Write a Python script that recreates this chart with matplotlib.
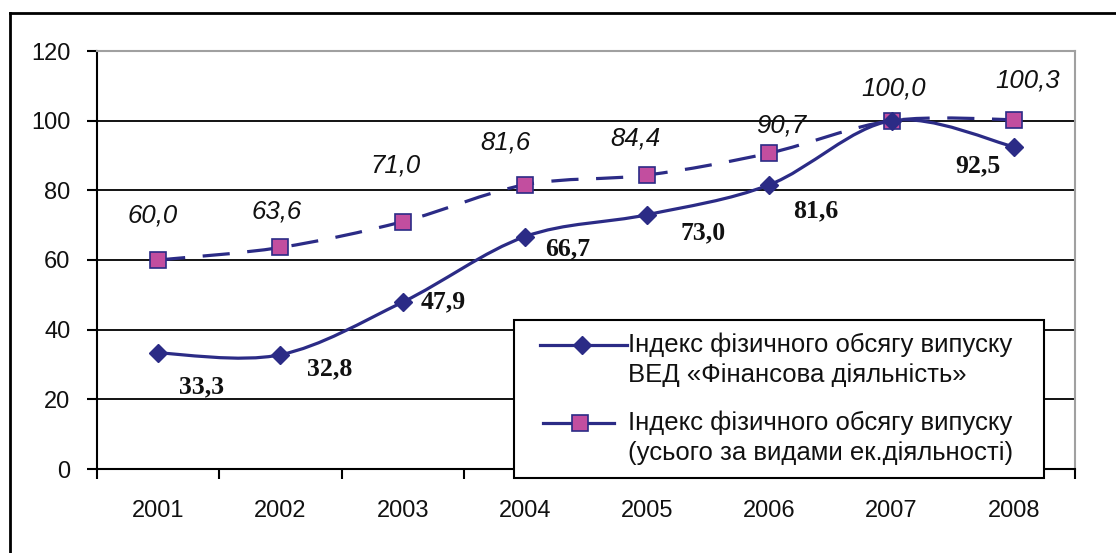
import numpy as np
import matplotlib
matplotlib.use("Agg")
import matplotlib.pyplot as plt
from matplotlib.path import Path
from matplotlib.patches import PathPatch, Rectangle
from matplotlib.lines import Line2D

# data
years = ['2001', '2002', '2003', '2004', '2005', '2006', '2007', '2008']
fin_index = [33.3, 32.8, 47.9, 66.7, 73.0, 81.6, 100.0, 92.5]
total_index = [60.0, 63.6, 71.0, 81.6, 84.4, 90.7, 100.0, 100.3]
y_ticks = [0, 20, 40, 60, 80, 100, 120]
fin_label = ['Індекс фізичного обсягу випуску', 'ВЕД «Фінансова діяльність»']
total_label = ['Індекс фізичного обсягу випуску', '(усього за видами ек.діяльності)']

# label offsets in pixels (dx, dy)
fin_offsets = [(43, -34), (49, -14), (41, 0), (43, -12), (56, -18), (46, -26), (0, 0), (-36, -19)]
total_offsets = [(-5, 45), (-4, 36), (-7, 56), (-19, 42), (-12, 37), (12, 28), (2, 32), (14, 39)]

navy = '#2B2B86'
pink = '#C24E9F'
W, H = 1116, 553

plt.rcParams['font.family'] = ['Liberation Sans', 'DejaVu Sans']


def fx(x):
    return x / W


def fy(y):
    # pixel row from the top -> figure fraction
    return (H - y) / H


def smooth_path(xs, ys):
    # Catmull-Rom style bezier, like Excel's smoothed line
    pts = np.column_stack([xs, ys]).astype(float)
    n = len(pts)
    verts = [pts[0]]
    codes = [Path.MOVETO]
    for i in range(n - 1):
        p_prev = pts[i - 1] if i > 0 else pts[i]
        p_next2 = pts[i + 2] if i + 2 < n else pts[i + 1]
        c1 = pts[i] + (pts[i + 1] - p_prev) / 6.0
        c2 = pts[i + 1] - (p_next2 - pts[i]) / 6.0
        verts += [c1, c2, pts[i + 1]]
        codes += [Path.CURVE4] * 3
    return Path(verts, codes)


fig = plt.figure(figsize=(W / 100, H / 100), dpi=100)
ax = fig.add_axes([fx(97), fy(469), fx(978), 418 / H])

x = np.arange(len(years))

dash = (0, (8.5, 5.5))
ax.add_patch(PathPatch(smooth_path(x, total_index), fill=False, edgecolor=navy,
                       lw=2.3, ls=dash, zorder=3))
ax.add_patch(PathPatch(smooth_path(x, fin_index), fill=False, edgecolor=navy,
                       lw=2.3, zorder=3))
ax.plot(x, total_index, ls='none', marker='s', ms=12, mfc=pink, mec=navy, mew=1.2, zorder=4)
ax.plot(x, fin_index, ls='none', marker='D', ms=9.5, mfc=navy, mec=navy, zorder=4)

for xi, v, off in zip(x, fin_index, fin_offsets):
    if xi == 6:
        continue
    ax.annotate(f'{v:.1f}'.replace('.', ','), (xi, v), xytext=off, textcoords='offset pixels',
                ha='center', va='center', fontsize=18.5, fontweight='bold',
                family='Liberation Serif', color='#111111', zorder=5)
for xi, v, off in zip(x, total_index, total_offsets):
    ax.annotate(f'{v:.1f}'.replace('.', ','), (xi, v), xytext=off, textcoords='offset pixels',
                ha='center', va='center', fontsize=18.5, fontstyle='italic',
                color='#111111', zorder=5)

ax.set_xlim(-0.5, len(years) - 0.5)
ax.set_ylim(0, 120)
ax.set_yticks(y_ticks)
ax.set_xticks(x)
ax.set_xticklabels(years)
ax.set_xticks(np.arange(len(years) + 1) - 0.5, minor=True)
ax.tick_params(axis='x', which='major', length=0, pad=22, labelsize=17, labelcolor='#111111')
ax.tick_params(axis='x', which='minor', length=7, width=1.5, direction='out')
ax.tick_params(axis='y', length=7, width=1.5, pad=12, labelsize=17, labelcolor='#111111')
for t in y_ticks[1:-1]:
    ax.axhline(t, color='black', lw=1.3, zorder=1)

for s in ['top', 'right']:
    ax.spines[s].set_color('#A0A0A0')
    ax.spines[s].set_linewidth(1.5)
for s in ['left', 'bottom']:
    ax.spines[s].set_color('black')
    ax.spines[s].set_linewidth(1.5)

# legend box drawn by hand: handles sit on the first text line of each entry
fig.add_artist(Rectangle((fx(514), fy(478)), fx(530), 158 / H, transform=fig.transFigure,
                         facecolor='white', edgecolor='black', lw=1.5, zorder=6))
fig.add_artist(Line2D([fx(540), fx(582), fx(627)], [fy(345)] * 3, color=navy, lw=2.3,
                      marker='D', ms=9.5, mfc=navy, mec=navy, markevery=[1],
                      transform=fig.transFigure, zorder=7))
fig.add_artist(Line2D([fx(543), fx(580), fx(614)], [fy(423)] * 3, color=navy, lw=2.3,
                      marker='s', ms=12, mfc=pink, mec=navy, mew=1.2, markevery=[1],
                      transform=fig.transFigure, zorder=7))
for lines, y0 in [(fin_label, 345), (total_label, 423)]:
    for k, line in enumerate(lines):
        fig.text(fx(628), fy(y0 + 30 * k), line, ha='left', va='center', fontsize=18.5,
                 color='#111111', zorder=8)

# outer chart border
fig.add_artist(Line2D([fx(10), fx(10)], [0, fy(13)], color='black', lw=2,
                      transform=fig.transFigure))
fig.add_artist(Line2D([fx(10), 1], [fy(13), fy(13)], color='black', lw=2,
                      transform=fig.transFigure))

fig.savefig('out.png', dpi=100)
